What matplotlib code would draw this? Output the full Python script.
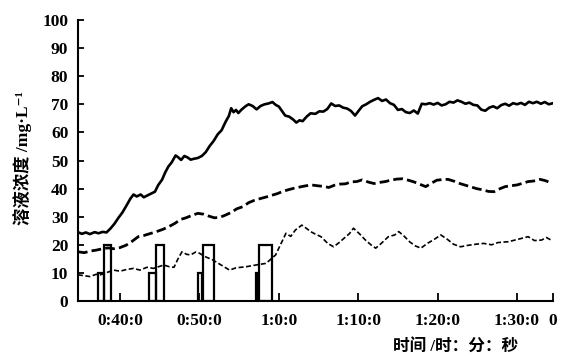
import matplotlib
matplotlib.use('Agg')
import matplotlib.pyplot as plt

# time in minutes, concentration in mg/L
t_top = [34.7, 35.2, 35.7, 36.2, 36.8, 37.3, 37.8, 38.3, 38.8, 39.3, 39.8, 40.3, 40.8, 41.3,
         41.7, 42.1, 42.6, 43.0, 43.4, 43.9, 44.4, 44.8, 45.3, 45.7, 46.1, 46.5, 47.0, 47.3,
         47.7, 48.1, 48.5, 48.9, 49.3, 49.8, 50.3, 50.8, 51.3, 51.8, 52.3, 52.8, 53.3, 53.7,
         54.0, 54.3, 54.6, 54.9, 55.3, 55.8, 56.2, 56.7, 57.2, 57.7, 58.2, 58.7, 59.2, 59.6,
         60.0, 60.4, 60.8, 61.3, 61.8, 62.2, 62.6, 63.0, 63.5, 64.0, 64.6, 65.1, 65.6, 66.1,
         66.6, 67.1, 67.6, 68.1, 68.6, 69.1, 69.6, 70.0, 70.5, 71.0, 71.5, 72.0, 72.5, 73.0,
         73.5, 74.0, 74.5, 75.0, 75.5, 76.0, 76.5, 77.0, 77.5, 78.0, 78.5, 79.0, 79.5, 80.0,
         80.5, 81.0, 81.5, 82.0, 82.5, 83.0, 83.5, 84.0, 84.5, 85.0, 85.5, 86.0, 86.5, 87.0,
         87.5, 88.0, 88.5, 89.0, 89.5, 90.0, 90.5, 91.0, 91.5, 92.0, 92.5, 93.0, 93.5, 94.0, 94.4]
c_top = [24.5, 23.9, 24.4, 23.8, 24.5, 24.1, 24.6, 24.4, 25.8, 27.5, 29.6, 31.5, 33.9, 36.4,
         37.9, 37.2, 37.9, 36.9, 37.5, 38.2, 38.9, 41.2, 43.2, 45.8, 47.9, 49.3, 51.8, 51.2,
         50.2, 51.6, 51.1, 50.3, 50.6, 50.9, 51.6, 53.0, 55.2, 57.0, 59.3, 60.8, 63.8, 65.8,
         68.6, 67.2, 68.0, 66.9, 68.1, 69.3, 70.0, 69.4, 68.2, 69.4, 70.0, 70.3, 70.8, 69.8,
         69.2, 67.6, 66.0, 65.6, 64.6, 63.5, 64.3, 64.0, 65.6, 66.8, 66.6, 67.5, 67.4, 68.3,
         70.3, 69.4, 69.6, 68.8, 68.5, 67.6, 66.0, 67.5, 69.3, 70.0, 70.9, 71.6, 72.2, 71.2,
         71.7, 70.4, 69.8, 68.0, 68.3, 67.2, 66.9, 67.8, 66.7, 70.2, 70.0, 70.4, 69.9, 70.5,
         69.6, 70.0, 70.9, 70.6, 71.4, 70.9, 70.2, 70.6, 69.8, 69.6, 68.1, 67.7, 68.8, 69.3,
         68.6, 69.7, 70.2, 69.5, 70.4, 70.0, 70.5, 69.8, 70.9, 70.4, 70.9, 70.2, 70.8, 70.0, 70.3]

t_mid = [34.7, 35.5, 36.3, 37.0, 37.8, 38.5, 39.2, 40.0, 40.8, 41.5, 42.3, 43.0, 43.8, 44.6,
         45.4, 46.1, 46.9, 47.6, 48.3, 49.0, 49.8, 50.5, 51.2, 51.9, 52.6, 53.3, 54.0, 54.7,
         55.5, 56.2, 56.9, 57.6, 58.4, 59.1, 59.8, 60.5, 61.2, 62.0, 62.7, 63.4, 64.1, 64.9,
         65.6, 66.3, 67.0, 67.7, 68.4, 69.1, 69.8, 70.5, 71.3, 72.0, 72.7, 73.4, 74.1, 74.9,
         75.6, 76.3, 77.0, 77.8, 78.5, 79.2, 79.9, 80.6, 81.3, 82.1, 82.8, 83.5, 84.2, 84.9,
         85.6, 86.4, 87.1, 87.8, 88.5, 89.2, 90.0, 90.7, 91.4, 92.1, 92.9, 93.6, 94.4]
c_mid = [17.5, 17.2, 17.8, 18.1, 18.6, 18.9, 18.6, 19.0, 19.9, 21.2, 22.9, 23.3, 24.0, 24.7,
         25.5, 26.4, 27.6, 29.0, 29.6, 30.4, 31.2, 30.9, 30.2, 29.6, 29.8, 30.6, 31.5, 32.8,
         33.6, 35.0, 35.8, 36.4, 37.0, 37.6, 38.2, 39.0, 39.6, 40.2, 40.6, 41.0, 41.3, 41.0,
         40.8, 40.4, 41.2, 41.6, 41.7, 42.4, 42.5, 43.1, 42.3, 41.8, 42.2, 42.5, 43.0, 43.4,
         43.5, 43.0, 42.4, 41.5, 40.7, 41.9, 43.0, 43.2, 43.3, 42.6, 41.8, 41.2, 40.6, 40.0,
         39.6, 39.0, 38.9, 39.9, 40.7, 41.0, 41.3, 41.9, 42.5, 42.7, 43.3, 42.8, 41.9]

t_low = [34.7, 35.5, 36.2, 37.0, 37.5, 38.2, 39.2, 40.0, 40.8, 41.7, 42.5, 43.4, 44.2, 45.5,
         46.2, 46.8, 47.3, 47.8, 48.4, 48.9, 49.5, 50.0, 50.7, 51.7, 52.5, 53.2, 53.8, 54.6,
         55.9, 57.1, 58.4, 59.6, 60.2, 60.9, 61.5, 62.1, 62.9, 63.5, 64.0, 64.6, 65.3, 66.2,
         66.9, 67.6, 68.2, 68.9, 69.4, 70.2, 70.9, 71.6, 72.2, 72.9, 73.8, 74.6, 75.1, 75.7,
         76.5, 77.2, 77.9, 78.7, 79.5, 80.4, 81.2, 82.0, 82.9, 83.8, 84.8, 85.8, 86.8, 87.6,
         88.9, 89.9, 90.6, 91.4, 92.2, 93.1, 93.7, 94.4]
c_low = [9.3, 9.0, 8.7, 9.5, 9.3, 10.0, 11.0, 10.6, 11.2, 11.6, 11.0, 12.0, 11.6, 12.8,
         12.2, 12.0, 15.0, 17.5, 16.6, 16.4, 17.4, 17.0, 15.8, 14.6, 13.2, 12.0, 11.0, 11.8,
         12.2, 12.8, 13.4, 16.4, 20.0, 24.1, 23.0, 25.3, 27.0, 25.8, 24.7, 23.8, 22.9, 20.4,
         19.3, 20.8, 22.3, 24.0, 25.9, 23.8, 21.7, 20.0, 18.8, 20.5, 22.9, 23.5, 24.7, 23.3,
         21.0, 19.6, 18.8, 20.5, 21.8, 23.5, 22.0, 20.2, 19.3, 19.8, 20.2, 20.5, 20.0, 20.8,
         21.1, 21.8, 22.3, 22.9, 21.5, 21.7, 22.6, 21.5]

# rectangular pulses (start, width, height)
short_start = [37.23, 43.65, 49.82, 57.07]
short_width = [0.69, 0.85, 0.51, 0.37]
short_height = [10, 10, 10, 10]
tall_start = [37.98, 44.50, 50.49, 57.51]
tall_width = [0.89, 1.08, 1.39, 1.67]
tall_height = [20, 20, 20, 20]

xticks = [40, 50, 60, 70, 80, 90, 94.53]
xlabels = ['0:40:0', '0:50:0', '1:0:0', '1:10:0', '1:20:0', '1:30:0', '0']
yticks = list(range(0, 101, 10))

fig = plt.figure(figsize=(5.67, 3.56), dpi=100)
ax = fig.add_axes([0.1376, 0.1545, 0.8377, 0.7893])

ax.plot(t_top, c_top, color='black', lw=1.9, solid_joinstyle='round')
ax.plot(t_mid, c_mid, color='black', lw=2.0, linestyle=(0, (3.5, 1.5)))
ax.plot(t_low, c_low, color='black', lw=1.2, linestyle=(0, (3, 1.5)))

ax.bar(short_start, short_height, width=short_width, align='edge',
       fill=False, edgecolor='black', linewidth=1.6)
ax.bar(tall_start, tall_height, width=tall_width, align='edge',
       fill=False, edgecolor='black', linewidth=1.6)

ax.set_xlim(34.71, 94.53)
ax.set_ylim(0, 100)
ax.set_xticks(xticks)
ax.set_xticklabels(xlabels)
ax.set_yticks(yticks)

for s in ['top', 'right']:
    ax.spines[s].set_visible(False)
for s in ['left', 'bottom']:
    ax.spines[s].set_linewidth(1.5)

ax.tick_params(axis='y', direction='in', length=4, width=1.3, pad=7)
ax.tick_params(axis='x', direction='in', length=6, width=1.3, pad=9)
for lab in ax.get_xticklabels() + ax.get_yticklabels():
    lab.set_fontfamily('Liberation Serif')
    lab.set_fontsize(12.5)
    lab.set_fontweight('bold')

fams = ['Liberation Serif', 'Noto Sans CJK SC', 'DejaVu Serif']
fig.text(0.040, 0.556, '溶液浓度 /mg·L⁻¹', rotation=90, ha='center', va='center',
         family=fams, fontsize=12.5, weight='bold')
fig.text(0.914, 0.025, '时间 /时：分：秒', ha='right', va='center',
         family=fams, fontsize=12, weight='bold')

fig.savefig('out.png', dpi=100)
